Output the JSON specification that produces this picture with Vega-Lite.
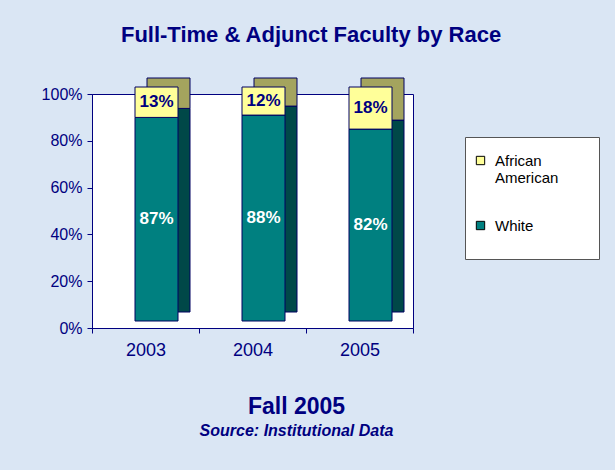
{
  "$schema": "https://vega.github.io/schema/vega-lite/v6.json",
  "background": "#dae6f4",
  "padding": {"left": 40, "top": 24, "right": 15, "bottom": 35},
  "title": {
    "text": "Full-Time & Adjunct Faculty by Race",
    "font": "Liberation Sans",
    "fontSize": 22,
    "fontWeight": "bold",
    "color": "#000080",
    "anchor": "middle",
    "offset": 30,
    "dx": -9
  },
  "vconcat": [
    {
      "width": 321,
      "height": 234,
      "title": {
        "text": "Fall 2005",
        "subtitle": "Source: Institutional Data",
        "orient": "bottom",
        "anchor": "middle",
        "font": "Liberation Sans",
        "fontSize": 23,
        "fontWeight": "bold",
        "color": "#000080",
        "subtitleFont": "Liberation Sans",
        "subtitleFontSize": 16,
        "subtitleFontWeight": "bold",
        "subtitleFontStyle": "italic",
        "subtitleColor": "#000080",
        "subtitlePadding": 4,
        "offset": 37,
        "dx": 44
      },
      "data": {
        "values": [
          {"year": "2003", "race": "White", "value": 0.87},
          {"year": "2003", "race": "African American", "value": 0.13},
          {"year": "2004", "race": "White", "value": 0.88},
          {"year": "2004", "race": "African American", "value": 0.12},
          {"year": "2005", "race": "White", "value": 0.82},
          {"year": "2005", "race": "African American", "value": 0.18}
        ]
      },
      "transform": [
        {"stack": "value", "groupby": ["year"], "sort": [{"field": "race", "order": "descending"}], "as": ["y0", "y1"]},
        {"calculate": "(datum.y0 + datum.y1) / 2", "as": "mid"}
      ],
      "encoding": {
        "x": {
          "field": "year",
          "type": "nominal",
          "title": null,
          "scale": {"paddingInner": 0, "paddingOuter": 0},
          "axis": {
            "labelAngle": 0,
            "labelFont": "Liberation Sans",
            "labelFontSize": 18,
            "labelColor": "#000080",
            "labelPadding": 8,
            "tickBand": "extent",
            "tickColor": "#000080",
            "tickSize": 5,
            "domainColor": "#000080"
          }
        }
      },
      "layer": [
        {
          "mark": {"type": "bar", "width": 43, "xOffset": 23, "yOffset": -16, "y2Offset": -16, "stroke": "#000060", "strokeWidth": 1},
          "encoding": {
            "y": {"field": "y0", "type": "quantitative"},
            "y2": {"field": "y1"},
            "color": {"condition": {"test": "datum.race == 'White'", "value": "#004848"}, "value": "#a4a45e"}
          }
        },
        {
          "mark": {"type": "bar", "width": 43, "xOffset": 11, "yOffset": -7, "y2Offset": -7, "stroke": "#000060", "strokeWidth": 1},
          "encoding": {
            "y": {
              "field": "y0",
              "type": "quantitative",
              "title": null,
              "scale": {"domain": [0, 1]},
              "axis": {
                "format": ".0%",
                "values": [0, 0.2, 0.4, 0.6, 0.8, 1],
                "labelFont": "Liberation Sans",
                "labelFontSize": 16,
                "labelColor": "#000080",
                "labelPadding": 5,
                "tickColor": "#000080",
                "tickSize": 5,
                "domainColor": "#000080",
                "grid": false
              }
            },
            "y2": {"field": "y1"},
            "color": {
              "field": "race",
              "type": "nominal",
              "scale": {"domain": ["African American", "White"], "range": ["#ffff99", "#008080"]},
              "legend": {
                "orient": "none",
                "legendX": 373,
                "legendY": 43,
                "title": "\u200b\u00a0\u00a0\u00a0\u00a0\u00a0\u00a0\u00a0\u00a0\u00a0\u00a0\u00a0\u00a0\u00a0\u00a0\u00a0\u00a0\u00a0\u00a0\u00a0\u00a0\u00a0\u00a0\u00a0\u00a0\u00a0\u00a0\u00a0\u00a0\u00a0\u00a0\u00a0\u00a0\u00a0\u00a0\u00a0\u00a0\u00a0\u00a0\u00a0\u00a0\u00a0\u00a0\u00a0\u00a0\u00a0\u00a0\u00a0\u00a0\u00a0\u00a0\u00a0\u00a0\u00a0\u200b",
                "titleFontSize": 8,
                "titlePadding": 0,
                "titleLimit": 300,
                "labelExpr": "datum.label == 'African American' ? ['African', 'American'] : [datum.label, '']",
                "labelFont": "Liberation Sans",
                "labelFontSize": 15,
                "labelColor": "#000000",
                "labelOffset": 7,
                "labelLimit": 200,
                "symbolType": "square",
                "symbolSize": 70,
                "symbolStrokeColor": "#000000",
                "symbolStrokeWidth": 1,
                "rowPadding": 32,
                "padding": 8,
                "fillColor": "#ffffff",
                "strokeColor": "#555555"
              }
            }
          }
        },
        {
          "mark": {"type": "text", "font": "Liberation Sans", "fontSize": 17, "fontWeight": "bold", "dx": 11, "dy": -7},
          "encoding": {
            "y": {"field": "mid", "type": "quantitative"},
            "text": {"field": "value", "type": "quantitative", "format": ".0%"},
            "color": {"condition": {"test": "datum.race == 'White'", "value": "#ffffff"}, "value": "#000080"}
          }
        }
      ]
    }
  ],
  "config": {
    "view": {"fill": "#ffffff", "stroke": "#000080", "strokeWidth": 1}
  }
}
